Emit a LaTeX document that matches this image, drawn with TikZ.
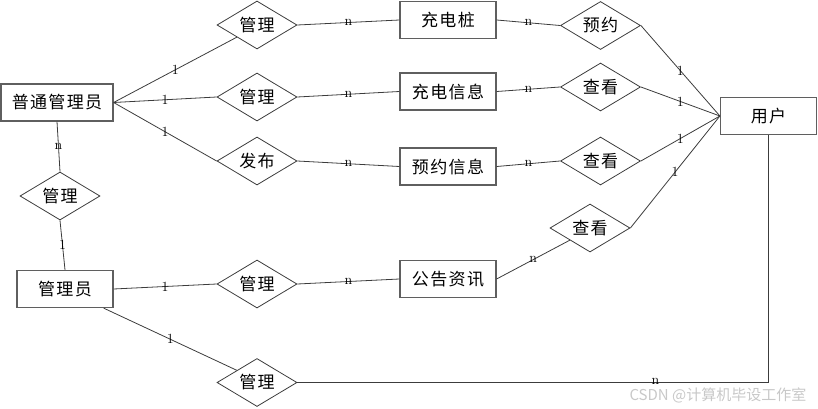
\documentclass[tikz,border=0pt]{standalone}
\usepackage{fontspec}
\usepackage{tikz}
\usetikzlibrary{calc,positioning,shapes.geometric}
\newfontfamily\zhfont[LetterSpace=8]{Noto Sans CJK SC}
\newfontfamily\wmfont{Noto Sans CJK SC}
\definecolor{erLine}{RGB}{60,60,60}
\definecolor{erBorder}{RGB}{95,95,95}
\definecolor{erMark}{RGB}{200,200,200}

\begin{document}
\begin{tikzpicture}[x=1pt,y=-1pt,
  entity/.style={draw=erBorder, line width=1.2pt, minimum width=96pt, minimum height=37pt,
    inner sep=0pt, font=\zhfont\fontsize{17}{17}\selectfont},
  rel/.style={diamond, draw=erLine, line width=0.8pt, aspect=1.667, minimum width=80pt,
    minimum height=48pt, inner sep=0pt, font=\zhfont\fontsize{17}{17}\selectfont},
  link/.style={draw=erLine, line width=0.8pt},
  card/.style={inner sep=0pt, font=\fontsize{14}{14}\selectfont}]
\useasboundingbox (0,0) rectangle (818,409);

\node[entity, minimum width=112pt] (ptgly) at (57,102.5) {普通管理员};
\node[entity] (gly) at (65,289) {管理员};
\node[entity] (cdz) at (448,20) {充电桩};
\node[entity] (cdxx) at (448,91.5) {充电信息};
\node[entity] (yyxx) at (448,166.5) {预约信息};
\node[entity] (ggzx) at (448,279) {公告资讯};
\node[entity] (yh) at (768.5,116) {用户};

\node[rel] (gl1) at (257,25) {管理};
\node[rel] (gl2) at (257,97) {管理};
\node[rel] (fb) at (257,161) {发布};
\node[rel] (gl3) at (60,196) {管理};
\node[rel] (gl4) at (257,284) {管理};
\node[rel] (gl5) at (257,382.5) {管理};
\node[rel] (yy) at (600.5,25.5) {预约};
\node[rel] (ck1) at (600.5,87) {查看};
\node[rel] (ck2) at (600.5,161) {查看};
\node[rel] (ck3) at (590,228) {查看};

\foreach \a/\b/\c in {ptgly.east/gl1.south west/1, ptgly.east/gl2.west/1, ptgly.east/fb.west/1,
    gl1.east/cdz.west/n, gl2.east/cdxx.west/n, fb.east/yyxx.west/n,
    cdz.east/yy.west/n, cdxx.east/ck1.west/n, yyxx.east/ck2.west/n,
    yy.east/yh.west/1, ck1.east/yh.west/1, ck2.east/yh.west/1, ck3.east/yh.west/1,
    ggzx.east/ck3.south west/n, ptgly.south/gl3.north/n, gl3.south/gly.north/1,
    gly.east/gl4.west/1, gl4.east/ggzx.west/n}{
  \draw[link] (\a) -- node[card] {\c} (\b);
}
\draw[link] ([xshift=-10pt]gly.south east) -- node[card] {1} (gl5.north west);
\draw[link] (gl5.east) -| node[card, pos=0.38, yshift=1pt] {n} (yh.south);

\node[font=\wmfont\fontsize{15}{15}\selectfont, text=erMark, anchor=west] (mark) at (626,395) {CSDN @计算机毕设工作室};
\end{tikzpicture}
\end{document}
